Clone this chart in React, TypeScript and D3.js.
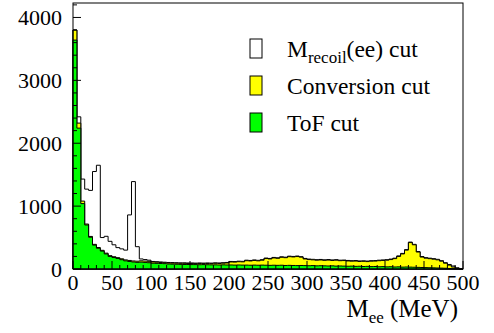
import * as d3 from 'd3'

// 5 MeV bins from 0 to 500 MeV
const binWidth = 5

// M_recoil(ee) cut (open histogram)
const recoilCut = [
  3800, 2420, 1430, 1270, 1250, 1550, 1650, 500, 520, 440,
  385, 340, 320, 300, 860, 1390, 355, 160, 150, 140,
  120, 116, 112, 108, 104, 102, 100, 98, 98, 96,
  96, 94, 96, 94, 96, 94, 98, 96, 100, 104,
  120, 118, 124, 122, 140, 136, 144, 138, 148, 174,
  168, 184, 178, 194, 188, 204, 200, 206, 196, 168,
  158, 154, 148, 152, 146, 150, 144, 148, 140, 142,
  136, 132, 134, 128, 130, 126, 132, 134, 140, 144,
  148, 158, 172, 208, 248, 308, 428, 392, 278, 198,
  180, 172, 164, 154, 132, 100, 72, 48, 20, 0,
]

// Conversion cut
const conversionCut = [
  3800, 2320, 1080, 715, 518, 392, 342, 297, 252, 212,
  195, 180, 162, 145, 136, 128, 124, 130, 126, 122,
  112, 108, 104, 100, 96, 94, 92, 90, 90, 88,
  88, 86, 88, 86, 88, 86, 90, 88, 92, 96,
  112, 110, 116, 114, 132, 128, 136, 130, 140, 166,
  160, 176, 170, 186, 180, 196, 192, 198, 188, 160,
  150, 146, 140, 144, 138, 142, 136, 140, 132, 134,
  128, 124, 126, 120, 122, 118, 124, 126, 132, 136,
  140, 150, 165, 200, 240, 300, 420, 385, 270, 190,
  172, 164, 156, 146, 124, 92, 62, 32, 8, 0,
]

// ToF cut
const tofCut = [
  3640, 2240, 1040, 700, 505, 380, 330, 285, 240, 200,
  182, 168, 148, 130, 120, 112, 106, 110, 105, 100,
  92, 90, 88, 85, 80, 78, 76, 74, 72, 72,
  70, 70, 68, 70, 68, 66, 66, 64, 66, 64,
  64, 62, 64, 62, 62, 60, 62, 60, 62, 60,
  58, 60, 58, 60, 56, 58, 56, 54, 56, 54,
  52, 54, 50, 52, 50, 48, 50, 46, 48, 46,
  44, 46, 42, 44, 40, 42, 38, 40, 36, 38,
  34, 36, 32, 34, 30, 32, 30, 28, 26, 24,
  22, 20, 18, 16, 14, 12, 8, 5, 2, 0,
]

const xMajorTicks = [0, 50, 100, 150, 200, 250, 300, 350, 400, 450, 500]
const yMajorTicks = [0, 1000, 2000, 3000, 4000]

const legendItems = [
  { key: 'recoil', color: '#ffffff' },
  { key: 'conversion', label: 'Conversion cut', color: '#ffff00' },
  { key: 'tof', label: 'ToF cut', color: '#00ff00' },
]

const W = 494
const H = 333
const frame = { left: 73, right: 463, top: 3, bottom: 269 }
const font = '"Liberation Serif", "Times New Roman", Times, serif'

const x = d3.scaleLinear().domain([0, 500]).range([frame.left, frame.right])
const y = d3.scaleLinear().domain([0, 4230]).range([frame.bottom, frame.top])

function stepPath(values: number[]) {
  const p = d3.path()
  p.moveTo(x(0), y(0))
  values.forEach((v, i) => {
    p.lineTo(x(i * binWidth), y(v))
    p.lineTo(x((i + 1) * binWidth), y(v))
  })
  p.lineTo(x(values.length * binWidth), y(0))
  p.closePath()
  return p.toString()
}

export default function App() {
  const xMinor = d3.range(0, 501, 10).filter(v => v % 50 !== 0)
  const yMinor = d3.range(0, 4201, 200).filter(v => v % 1000 !== 0)
  const txt = { fontFamily: font }

  return (
    <svg width={W} height={H} style={{ position: 'absolute', left: 0, top: 0, background: '#fff' }}>
      <rect x={0} y={0} width={W} height={H} fill="#fff" />

      <path d={stepPath(recoilCut)} fill="#ffffff" stroke="#000" strokeWidth={1} />
      <path d={stepPath(conversionCut)} fill="#ffff00" stroke="#000" strokeWidth={1} />
      <path d={stepPath(tofCut)} fill="#00ff00" stroke="#000" strokeWidth={1} />

      {/* frame */}
      <rect x={frame.left} y={frame.top} width={frame.right - frame.left}
        height={frame.bottom - frame.top} fill="none" stroke="#000" strokeWidth={1} />

      {/* x ticks */}
      {xMajorTicks.map(t => (
        <line key={'xM' + t} x1={x(t)} x2={x(t)} y1={frame.bottom} y2={frame.bottom - 8}
          stroke="#000" strokeWidth={1} />
      ))}
      {xMinor.map(t => (
        <line key={'xm' + t} x1={x(t)} x2={x(t)} y1={frame.bottom} y2={frame.bottom - 4}
          stroke="#000" strokeWidth={1} />
      ))}
      {xMajorTicks.map(t => (
        <text key={'xl' + t} x={x(t)} y={290} textAnchor="middle" fontSize={22} style={txt}>{t}</text>
      ))}

      {/* y ticks */}
      {yMajorTicks.map(t => (
        <line key={'yM' + t} x1={frame.left} x2={frame.left + 8} y1={y(t)} y2={y(t)}
          stroke="#000" strokeWidth={1} />
      ))}
      {yMinor.map(t => (
        <line key={'ym' + t} x1={frame.left} x2={frame.left + 4} y1={y(t)} y2={y(t)}
          stroke="#000" strokeWidth={1} />
      ))}
      {yMajorTicks.map(t => (
        <text key={'yl' + t} x={62} y={y(t)} textAnchor="end" dominantBaseline="central"
          fontSize={22} style={txt}>{t}</text>
      ))}

      {/* axis title */}
      <text x={458} y={317} textAnchor="end" fontSize={25} style={txt}>
        M<tspan fontSize={17} dy={6}>ee</tspan><tspan dy={-6}> (MeV)</tspan>
      </text>

      {/* legend */}
      {legendItems.map((d, i) => {
        const cy = 48.5 + i * 37
        return (
          <g key={d.key}>
            <rect x={250} y={cy - 9.5} width={12} height={19} fill={d.color} stroke="#000" strokeWidth={1} />
            <text x={287} y={cy + 8} fontSize={23.5} style={txt}>
              {d.key === 'recoil' ? (
                <>M<tspan fontSize={17} dy={6}>recoil</tspan><tspan dy={-6}>(ee) cut</tspan></>
              ) : d.label}
            </text>
          </g>
        )
      })}
    </svg>
  )
}
